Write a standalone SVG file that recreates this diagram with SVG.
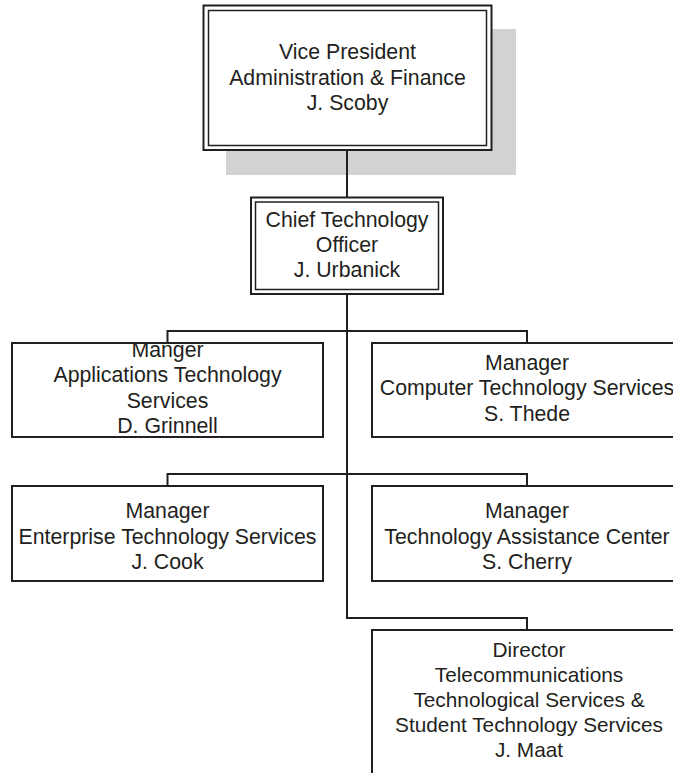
<svg xmlns="http://www.w3.org/2000/svg" width="673" height="773" viewBox="0 0 673 773">
<style>
.bx{fill:#fff;stroke:#231f20;stroke-width:2}
.in{fill:none;stroke:#231f20;stroke-width:1.5}
.cn{fill:none;stroke:#231f20;stroke-width:2}
text{font-family:"Liberation Sans",Arial,sans-serif;font-size:21.3px;fill:#231f20;text-anchor:middle}
</style>
<rect width="673" height="773" fill="#fff"/>
<rect x="226" y="29" width="290" height="146" fill="#d1d2d4"/>
<g id="connectors">
<path class="cn" d="M347 150 V197"/>
<path class="cn" d="M347 294 V618 H527 V630"/>
<path class="cn" d="M167.5 343 V331 H527 V343"/>
<path class="cn" d="M167.5 486 V474 H527 V486"/>
</g>
<g id="vp">
<rect class="bx" x="203.5" y="5.5" width="288" height="144.5"/>
<rect class="in" x="208.5" y="10.5" width="278" height="135"/>
<text x="347.5"><tspan x="347.5" y="59">Vice President</tspan><tspan x="347.5" y="84.5">Administration &amp; Finance</tspan><tspan x="347.5" y="110">J. Scoby</tspan></text>
</g>
<g id="cto">
<rect class="bx" x="251" y="197.5" width="192" height="96.5"/>
<rect class="in" x="255.5" y="202" width="183" height="87.5"/>
<text x="347"><tspan x="347" y="226.7">Chief Technology</tspan><tspan x="347" y="251.7">Officer</tspan><tspan x="347" y="276.7">J. Urbanick</tspan></text>
</g>
<g id="apps">
<rect class="bx" x="12" y="343" width="311" height="94"/>
<text x="167.5"><tspan x="167.5" y="356.7">Manger</tspan><tspan x="167.5" y="382">Applications Technology</tspan><tspan x="167.5" y="407.5">Services</tspan><tspan x="167.5" y="433">D. Grinnell</tspan></text>
</g>
<g id="cts">
<rect class="bx" x="372" y="343" width="311" height="94"/>
<text x="527"><tspan x="527" y="369.5">Manager</tspan><tspan x="527" y="395">Computer Technology Services</tspan><tspan x="527" y="420.5">S. Thede</tspan></text>
</g>
<g id="ets">
<rect class="bx" x="12" y="486" width="311" height="95"/>
<text x="167.5"><tspan x="167.5" y="518">Manager</tspan><tspan x="167.5" y="543.5">Enterprise Technology Services</tspan><tspan x="167.5" y="569">J. Cook</tspan></text>
</g>
<g id="tac">
<rect class="bx" x="372" y="486" width="311" height="95"/>
<text x="527"><tspan x="527" y="518">Manager</tspan><tspan x="527" y="543.5">Technology Assistance Center</tspan><tspan x="527" y="569">S. Cherry</tspan></text>
</g>
<g id="director">
<rect class="bx" x="372" y="630" width="311" height="160"/>
<text x="529" style="font-size:20.8px"><tspan x="529" y="656.7">Director</tspan><tspan x="529" y="681.7">Telecommunications</tspan><tspan x="529" y="706.7">Technological Services &amp;</tspan><tspan x="529" y="731.7">Student Technology Services</tspan><tspan x="529" y="756.7">J. Maat</tspan></text>
</g>
</svg>
